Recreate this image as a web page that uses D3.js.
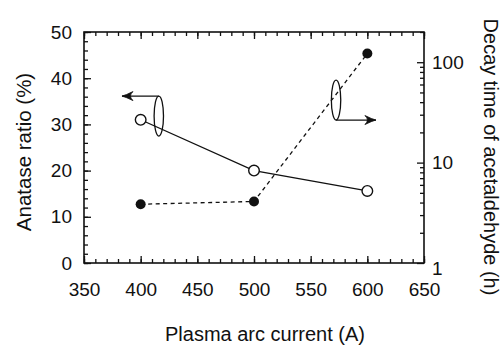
<!DOCTYPE html>
<html>
<head>
<meta charset="utf-8">
<script src="https://cdn.jsdelivr.net/npm/d3@7"></script>
<style>
  html, body { margin: 0; padding: 0; background: #fff; }
  svg { display: block; }
  text { font-family: "Liberation Sans", Arial, Helvetica, sans-serif; fill: #111; }
</style>
</head>
<body>
<svg id="chart" width="501" height="347"></svg>
<script>
// Plasma arc current (A) for each sample
const currents = [400, 500, 600];
// Anatase ratio (%) – left axis, open circles, solid line
const anataseRatio = [31, 20, 15.6];
// Decay time of acetaldehyde (h) – right log axis, filled circles, dashed line
const decayTime = [3.85, 4.1, 122];

// Axis ticks
const xMajor = [350, 400, 450, 500, 550, 600, 650];
const xMinor = d3.range(350, 651, 10);
const leftMajor = [0, 10, 20, 30, 40, 50];
const leftMinor = d3.range(0, 51, 2);
const rightMajor = [1, 10, 100];
const rightMinor = [2,3,4,5,6,7,8,9,20,30,40,50,60,70,80,90,200];

// Series markers: ellipse around the series with an arrow to its axis
const seriesKeys = [
  { side: "left",  cx: 416,   cy: 31.8, tipX: 383.5 },
  { side: "right", cx: 572.4, cy: 42,   tipX: 607.6 }
];

const svg = d3.select("#chart");
const plot = { left: 84, right: 424, top: 32, bottom: 263 };

const x = d3.scaleLinear().domain([350, 650]).range([plot.left, plot.right]);
const yL = d3.scaleLinear().domain([0, 50]).range([plot.bottom, plot.top]);
const yR = d3.scaleLog().domain([1, 200]).range([plot.bottom, plot.top]);

const ink = "#111";
const tickFont = 19;

function styleAxis(g) {
  g.select(".domain").remove();
  g.selectAll(".tick line").attr("stroke", ink).attr("stroke-width", 1.3);
  g.selectAll(".tick text").attr("font-size", tickFont).attr("font-family", null).attr("fill", ink);
}

// Bottom axis: minor and major inward ticks
svg.append("g").attr("transform", `translate(0,${plot.bottom})`)
  .call(d3.axisBottom(x).tickValues(xMinor).tickSize(-4).tickFormat(""))
  .call(styleAxis);
svg.append("g").attr("transform", `translate(0,${plot.bottom})`)
  .call(d3.axisBottom(x).tickValues(xMajor).tickSize(-7).tickPadding(20).tickFormat(d3.format("d")))
  .call(styleAxis);

// Top axis: ticks only
svg.append("g").attr("transform", `translate(0,${plot.top})`)
  .call(d3.axisTop(x).tickValues(xMinor).tickSize(-4).tickFormat(""))
  .call(styleAxis);
svg.append("g").attr("transform", `translate(0,${plot.top})`)
  .call(d3.axisTop(x).tickValues(xMajor).tickSize(-7).tickFormat(""))
  .call(styleAxis);

// Left axis
svg.append("g").attr("transform", `translate(${plot.left},0)`)
  .call(d3.axisLeft(yL).tickValues(leftMinor).tickSize(-4).tickFormat(""))
  .call(styleAxis);
svg.append("g").attr("transform", `translate(${plot.left},0)`)
  .call(d3.axisLeft(yL).tickValues(leftMajor).tickSize(-7).tickPadding(12).tickFormat(d3.format("d")))
  .call(styleAxis);

// Right log axis
svg.append("g").attr("transform", `translate(${plot.right},0)`)
  .call(d3.axisRight(yR).tickValues(rightMinor).tickSize(-4).tickFormat(""))
  .call(styleAxis);
const rightAxis = svg.append("g").attr("transform", `translate(${plot.right},0)`)
  .call(d3.axisRight(yR).tickValues(rightMajor).tickSize(-7).tickPadding(8).tickFormat(d3.format("d")))
  .call(styleAxis);
// the "1" label sits just under the corner
rightAxis.selectAll(".tick text").filter(d => d === 1).attr("dy", "0.62em");

// Frame
svg.append("rect")
  .attr("x", plot.left).attr("y", plot.top)
  .attr("width", plot.right - plot.left).attr("height", plot.bottom - plot.top)
  .attr("fill", "none").attr("stroke", ink).attr("stroke-width", 1.6);

// Decay time: dashed line and filled circles
const decayPts = currents.map((c, i) => [x(c), yR(decayTime[i])]);
svg.append("path")
  .attr("d", d3.line()(decayPts))
  .attr("fill", "none").attr("stroke", ink).attr("stroke-width", 1.3)
  .attr("stroke-dasharray", "4,3.5");
svg.selectAll("circle.decay").data(decayPts).join("circle")
  .attr("class", "decay")
  .attr("cx", d => d[0]).attr("cy", d => d[1]).attr("r", 5)
  .attr("fill", ink);

// Anatase ratio: solid line and open circles
const anatasePts = currents.map((c, i) => [x(c), yL(anataseRatio[i])]);
svg.append("path")
  .attr("d", d3.line()(anatasePts))
  .attr("fill", "none").attr("stroke", ink).attr("stroke-width", 1.3);
svg.selectAll("circle.anatase").data(anatasePts).join("circle")
  .attr("class", "anatase")
  .attr("cx", d => d[0]).attr("cy", d => d[1]).attr("r", 5.3)
  .attr("fill", "#fff").attr("stroke", ink).attr("stroke-width", 1.4);

// Series keys: ellipse + arrow pointing at the series' axis
const ellRx = 4.7, ellRy = 20;
seriesKeys.forEach(k => {
  const cx = x(k.cx);
  const cy = k.side === "left" ? yL(k.cy) : yR(k.cy);
  const ay = k.side === "left" ? cy - ellRy : cy + ellRy;
  const tx = x(k.tipX);
  const dir = tx < cx ? -1 : 1;
  svg.append("ellipse")
    .attr("cx", cx).attr("cy", cy).attr("rx", ellRx).attr("ry", ellRy)
    .attr("fill", "none").attr("stroke", ink).attr("stroke-width", 1.3);
  svg.append("line")
    .attr("x1", cx).attr("y1", ay).attr("x2", tx).attr("y2", ay)
    .attr("stroke", ink).attr("stroke-width", 1.3);
  const L = 11, W = 4.5;
  svg.append("path")
    .attr("d", `M${tx - dir * L},${ay - W} Q${tx - dir * 4},${ay - 1} ${tx},${ay} Q${tx - dir * 4},${ay + 1} ${tx - dir * L},${ay + W} Q${tx - dir * 6},${ay} ${tx - dir * L},${ay - W}Z`)
    .attr("fill", ink).attr("stroke", ink).attr("stroke-width", 0.8);
});

// Axis titles
svg.append("text")
  .attr("x", (plot.left + plot.right) / 2 + 11).attr("y", 341)
  .attr("text-anchor", "middle").attr("font-size", 20)
  .text("Plasma arc current (A)");

svg.append("text")
  .attr("transform", "translate(31,152) rotate(-90)")
  .attr("text-anchor", "middle").attr("font-size", 20.5)
  .text("Anatase ratio (%)");

svg.append("text")
  .attr("transform", "translate(484,157) rotate(90)")
  .attr("text-anchor", "middle").attr("font-size", 20)
  .text("Decay time of acetaldehyde (h)");
</script>
</body>
</html>
